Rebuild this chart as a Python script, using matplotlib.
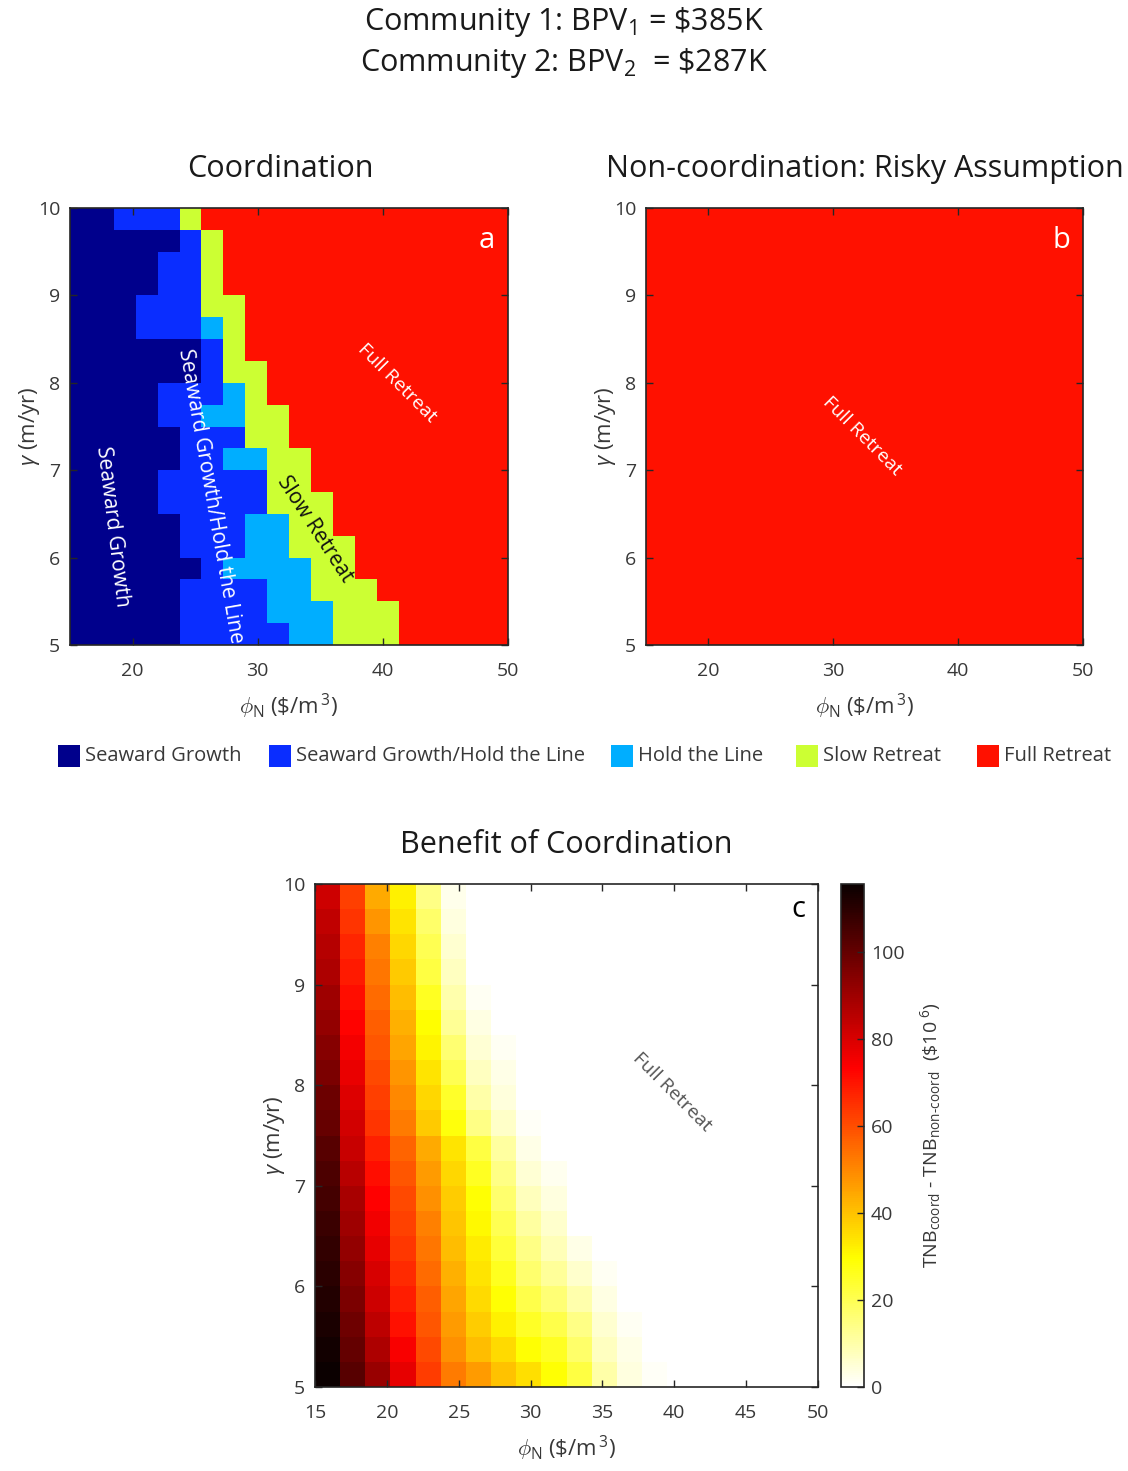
import numpy as np
import matplotlib
matplotlib.use("Agg")
import matplotlib.pyplot as plt
from matplotlib.colors import ListedColormap, BoundaryNorm
from matplotlib.patches import Rectangle

plt.rcParams["font.family"] = ["Open Sans", "DejaVu Sans"]
plt.rcParams["mathtext.fontset"] = "custom"
plt.rcParams["mathtext.rm"] = "Open Sans"
plt.rcParams["mathtext.it"] = "Open Sans:italic"
plt.rcParams["mathtext.bf"] = "Open Sans:bold"

# ---------------- data ----------------
phi_range = (15, 50)        # nourishment cost phi_N ($/m^3)
gamma_range = (5, 10)       # erosion rate gamma (m/yr)
n_phi, n_gamma = 20, 20

regime_names = ["Seaward Growth", "Seaward Growth/Hold the Line",
                "Hold the Line", "Slow Retreat", "Full Retreat"]
regime_colors = ["#00008C", "#0A2DFF", "#00AEFF", "#CCFF33", "#FF1100"]

# optimal regime under coordination, rows from gamma=10 (top) to gamma=5 (bottom)
coord_regime = [
    [0, 0, 1, 1, 1, 3, 4, 4, 4, 4, 4, 4, 4, 4, 4, 4, 4, 4, 4, 4],
    [0, 0, 0, 0, 0, 1, 3, 4, 4, 4, 4, 4, 4, 4, 4, 4, 4, 4, 4, 4],
    [0, 0, 0, 0, 1, 1, 3, 4, 4, 4, 4, 4, 4, 4, 4, 4, 4, 4, 4, 4],
    [0, 0, 0, 0, 1, 1, 3, 4, 4, 4, 4, 4, 4, 4, 4, 4, 4, 4, 4, 4],
    [0, 0, 0, 1, 1, 1, 3, 3, 4, 4, 4, 4, 4, 4, 4, 4, 4, 4, 4, 4],
    [0, 0, 0, 1, 1, 1, 2, 3, 4, 4, 4, 4, 4, 4, 4, 4, 4, 4, 4, 4],
    [0, 0, 0, 0, 0, 0, 1, 3, 4, 4, 4, 4, 4, 4, 4, 4, 4, 4, 4, 4],
    [0, 0, 0, 0, 0, 0, 1, 3, 3, 4, 4, 4, 4, 4, 4, 4, 4, 4, 4, 4],
    [0, 0, 0, 0, 1, 1, 1, 2, 3, 4, 4, 4, 4, 4, 4, 4, 4, 4, 4, 4],
    [0, 0, 0, 0, 1, 1, 2, 2, 3, 3, 4, 4, 4, 4, 4, 4, 4, 4, 4, 4],
    [0, 0, 0, 0, 0, 1, 1, 1, 3, 3, 4, 4, 4, 4, 4, 4, 4, 4, 4, 4],
    [0, 0, 0, 0, 0, 1, 1, 2, 2, 3, 3, 4, 4, 4, 4, 4, 4, 4, 4, 4],
    [0, 0, 0, 0, 1, 1, 1, 1, 1, 3, 3, 4, 4, 4, 4, 4, 4, 4, 4, 4],
    [0, 0, 0, 0, 1, 1, 1, 1, 1, 3, 3, 3, 4, 4, 4, 4, 4, 4, 4, 4],
    [0, 0, 0, 0, 0, 1, 1, 1, 2, 2, 3, 3, 4, 4, 4, 4, 4, 4, 4, 4],
    [0, 0, 0, 0, 0, 1, 1, 1, 2, 2, 3, 3, 3, 4, 4, 4, 4, 4, 4, 4],
    [0, 0, 0, 0, 0, 0, 1, 2, 2, 2, 2, 3, 3, 4, 4, 4, 4, 4, 4, 4],
    [0, 0, 0, 0, 0, 1, 1, 1, 1, 2, 2, 3, 3, 3, 4, 4, 4, 4, 4, 4],
    [0, 0, 0, 0, 0, 1, 1, 1, 1, 2, 2, 2, 3, 3, 3, 4, 4, 4, 4, 4],
    [0, 0, 0, 0, 0, 1, 1, 1, 1, 1, 2, 2, 3, 3, 3, 4, 4, 4, 4, 4],
]

# non-coordination (risky assumption): full retreat everywhere
noncoord_regime = [[4] * 20 for _ in range(20)]

# TNB_coord - TNB_non-coord ($10^6), one list per phi_N column,
# each from gamma=10 (top) to gamma=5 (bottom)
benefit_cols = [
    [82, 84, 86, 87.5, 90, 92, 94, 96, 98.5, 99.5, 102, 104, 105.5, 107, 108.5, 110, 111, 112.5, 114, 115.5],
    [62.5, 64.5, 67, 69, 71, 73, 75, 77, 79, 81, 83, 85.5, 88, 90, 92, 94, 96, 98, 100, 102],
    [44, 47.5, 51, 53, 55, 57, 58.5, 60.5, 62.5, 64.5, 68, 71, 73.5, 75.5, 77.5, 80, 82, 84.5, 87.5, 91],
    [32, 34, 36.5, 38.5, 41, 43, 45, 47.5, 50, 52, 56, 58.5, 60.5, 62, 64, 66, 68.5, 70.5, 74, 77.5],
    [14, 17.5, 20, 22, 25.5, 29.5, 31.5, 34, 36.5, 38.5, 44, 46.5, 48.5, 51, 53, 55, 57, 58.5, 60.5, 63],
    [2.3, 4, 5.5, 7.5, 9.5, 12.5, 16.5, 20, 24.5, 28, 34, 36.5, 38, 39.5, 41, 43, 45, 46.5, 48.5, 52],
    [0, 0, 0, 0, 1.8, 3.6, 5.3, 7.6, 10.3, 14.2, 22, 25.5, 29, 30.5, 32.5, 34, 36, 38, 41, 46.5],
    [0, 0, 0, 0, 0, 0, 1.5, 3, 4.5, 6.5, 11, 14, 17, 20, 23, 26, 29, 32, 36, 40],
    [0, 0, 0, 0, 0, 0, 0, 0, 0, 1, 3, 5, 8, 11, 14, 17, 21, 25, 29, 35],
    [0, 0, 0, 0, 0, 0, 0, 0, 0, 0, 0, 2, 4, 6, 8.5, 12, 16, 21, 25.5, 29],
    [0, 0, 0, 0, 0, 0, 0, 0, 0, 0, 0, 0, 0, 0, 3, 6, 9.5, 14, 17.5, 22],
    [0, 0, 0, 0, 0, 0, 0, 0, 0, 0, 0, 0, 0, 0, 0, 1.8, 3.5, 5.7, 7.4, 10.3],
    [0, 0, 0, 0, 0, 0, 0, 0, 0, 0, 0, 0, 0, 0, 0, 0, 0, 1.8, 2.9, 4],
    [0, 0, 0, 0, 0, 0, 0, 0, 0, 0, 0, 0, 0, 0, 0, 0, 0, 0, 0, 1],
    [0] * 20, [0] * 20, [0] * 20, [0] * 20, [0] * 20, [0] * 20,
]

cbar_ticks = [0, 20, 40, 60, 80, 100]

# ---------------- figure ----------------
W, H = 1128, 1471
fig = plt.figure(figsize=(W / 100, H / 100), dpi=100)


def box(l, t, r, b):
    return [l / W, 1 - b / H, (r - l) / W, (b - t) / H]


phi_edges = np.linspace(phi_range[0], phi_range[1], n_phi + 1)
gamma_edges = np.linspace(gamma_range[1], gamma_range[0], n_gamma + 1)

regime_cmap = ListedColormap(regime_colors)
regime_norm = BoundaryNorm(np.arange(-0.5, len(regime_names) + 0.5), regime_cmap.N)

EDGE = "#262626"
TXT = "#383838"
TITLE = "#1a1a1a"


def style(ax, xticks):
    ax.set_xlim(*phi_range)
    ax.set_ylim(*gamma_range)
    ax.set_xticks(xticks)
    ax.set_yticks(range(5, 11))
    ax.tick_params(direction="in", top=True, right=True, length=5, width=1,
                   colors=EDGE, labelcolor=TXT, labelsize=14)
    ax.tick_params(axis="x", pad=12)
    ax.tick_params(axis="y", pad=7)
    for s in ax.spines.values():
        s.set_color(EDGE)
        s.set_linewidth(1.2)
    ax.set_xlabel(r"$\phi_{\rm N}$ (\$/m$^{\,3}$)", fontsize=16, color=TXT, labelpad=9)
    ax.set_ylabel(r"$\gamma$ (m/yr)", fontsize=16, color=TXT, labelpad=-3)


# panel a: coordination
ax_a = fig.add_axes(box(70, 208, 508, 645))
ax_a.pcolormesh(phi_edges, gamma_edges, np.array(coord_regime),
                cmap=regime_cmap, norm=regime_norm)
style(ax_a, [20, 30, 40, 50])
ax_a.set_title("Coordination", fontsize=22, color=TITLE, pad=22, x=0.48)
ax_a.text(18.4, 6.35, "Seaward Growth", rotation=-83, color="white", fontsize=15,
          ha="center", va="center", rotation_mode="anchor")
ax_a.text(26.2, 6.7, "Seaward Growth/Hold the Line", rotation=-80, color="white",
          fontsize=15, ha="center", va="center", rotation_mode="anchor")
ax_a.text(34.6, 6.32, "Slow Retreat", rotation=-57, color="#111111", fontsize=15,
          ha="center", va="center", rotation_mode="anchor")
ax_a.text(41.1, 8.0, "Full Retreat", rotation=-45, color="white", fontsize=14,
          ha="center", va="center", rotation_mode="anchor")
ax_a.text(0.97, 0.925, "a", transform=ax_a.transAxes, color="white", fontsize=21,
          ha="right", va="center")

# panel b: non-coordination
ax_b = fig.add_axes(box(646, 208, 1083, 645))
ax_b.pcolormesh(phi_edges, gamma_edges, np.array(noncoord_regime),
                cmap=regime_cmap, norm=regime_norm)
style(ax_b, [20, 30, 40, 50])
ax_b.set_title("Non-coordination: Risky Assumption", fontsize=22, color=TITLE, pad=22)
ax_b.text(32.3, 7.39, "Full Retreat", rotation=-45, color="white", fontsize=14,
          ha="center", va="center", rotation_mode="anchor")
ax_b.text(0.97, 0.925, "b", transform=ax_b.transAxes, color="white", fontsize=21,
          ha="right", va="center")

# legend for regimes
legend_x = [58, 269, 611, 796, 977]
for x0, name, col in zip(legend_x, regime_names, regime_colors):
    fig.add_artist(Rectangle((x0 / W, 1 - 767 / H), 22 / W, 22 / H,
                             transform=fig.transFigure, facecolor=col,
                             edgecolor="none"))
    fig.text((x0 + 27) / W, 1 - 756 / H, name, fontsize=14.5, color=TXT,
             ha="left", va="center")

# panel c: benefit of coordination
benefit = np.array(benefit_cols).T
ax_c = fig.add_axes(box(315, 884, 818, 1387))
mesh = ax_c.pcolormesh(phi_edges, gamma_edges, benefit, cmap="hot_r",
                       vmin=0, vmax=benefit.max())
style(ax_c, list(range(15, 51, 5)))
ax_c.set_title("Benefit of Coordination", fontsize=22, color=TITLE, pad=22)
ax_c.text(39.85, 7.93, "Full Retreat", rotation=-45, color="#555555", fontsize=14,
          ha="center", va="center", rotation_mode="anchor")
ax_c.text(0.975, 0.95, "c", transform=ax_c.transAxes, color="black", fontsize=21,
          ha="right", va="center")

cax = fig.add_axes(box(841, 884, 864, 1387))
cb = fig.colorbar(mesh, cax=cax, ticks=cbar_ticks)
cb.outline.set_edgecolor(EDGE)
cb.outline.set_linewidth(1.2)
cax.tick_params(direction="in", length=5, width=1, colors=EDGE, labelcolor=TXT,
                labelsize=14, pad=5)
cb.set_label(r"TNB$_{\rm coord}$ - TNB$_{\text{non-coord}}$  (\$10$^{\ 6}$)",
             fontsize=14, color=TXT, labelpad=10)

# header
fig.text(0.5, 1 - 22 / H, r"Community 1: BPV$_1$ = \$385K", fontsize=22,
         color=TITLE, ha="center", va="center")
fig.text(0.5, 1 - 63 / H, r"Community 2: BPV$_2$  = \$287K", fontsize=22,
         color=TITLE, ha="center", va="center")

fig.savefig("out.png", dpi=100, facecolor="white")
